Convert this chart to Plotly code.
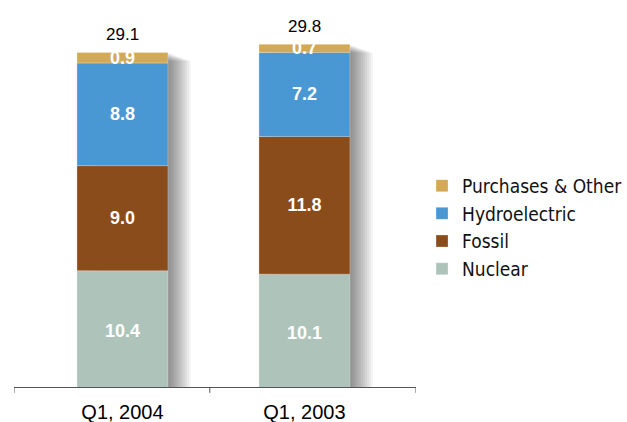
import plotly.graph_objects as go

categories = ["Q1, 2004", "Q1, 2003"]
nuclear = [10.4, 10.1]
fossil = [9.0, 11.8]
hydro = [8.8, 7.2]
purchases = [0.9, 0.7]

series = [
    ("Nuclear", nuclear, "#AEC4BB"),
    ("Fossil", fossil, "#8B4C1C"),
    ("Hydroelectric", hydro, "#4A98D3"),
    ("Purchases & Other", purchases, "#D4A955"),
]

totals = [round(sum(v), 1) for v in zip(nuclear, fossil, hydro, purchases)]

fig = go.Figure()

# soft drop shadow behind each stacked bar (layered translucent bars)
n_layers = 12
for k in range(1, n_layers + 1):
    fig.add_trace(go.Bar(
        x=categories, y=[t - 0.06 * k for t in totals], width=0.5,
        offset=-0.25 + k * 0.0105,
        marker=dict(color="rgba(0,0,0,0.045)", line=dict(width=0)),
        hoverinfo="skip", showlegend=False,
    ))

base = [0.0, 0.0]
for name, vals, color in series:
    fig.add_trace(go.Bar(
        x=categories, y=vals, base=list(base), name=name, width=0.5,
        marker=dict(color=color, line=dict(width=0.6, color="rgba(255,255,255,0.45)")),
        text=[f"{v:.1f}" for v in vals], textposition="inside",
        insidetextanchor="middle", textangle=0, constraintext="none",
        insidetextfont=dict(color="white", size=18, family="Liberation Sans, Arial", weight="bold"),
    ))
    base = [b + v for b, v in zip(base, vals)]

for c, t in zip(categories, totals):
    fig.add_annotation(x=c, y=t, yshift=18, text=f"{t:.1f}", showarrow=False,
                       yanchor="middle", font=dict(size=17, color="black", family="Liberation Sans, Arial"))

# axis ticks (category boundaries)
for tx in [-0.596, 0.48, 1.613]:
    fig.add_shape(type="line", xref="x", yref="paper", x0=tx, x1=tx, y0=0, y1=-0.016,
                  line=dict(color="#555555", width=1))

fig.update_layout(
    width=627, height=422,
    margin=dict(l=14, r=211, t=20, b=35, autoexpand=False),
    barmode="overlay",
    plot_bgcolor="white", paper_bgcolor="white",
    showlegend=True,
    legend=dict(x=1.015, y=0.60, xanchor="left", yanchor="top",
                traceorder="reversed",
                font=dict(size=19, color="#111111", family="DejaVu Sans Condensed, Liberation Sans Narrow, Arial")),
    xaxis=dict(type="category", range=[-0.596, 1.613], showline=True, linecolor="#555555",
               linewidth=1, ticks="", showgrid=False, zeroline=False, automargin=False,
               ticklabelstandoff=7,
               tickfont=dict(size=20, color="black", family="Liberation Sans, Arial")),
    yaxis=dict(range=[0.43, 31.88], visible=False, showgrid=False, zeroline=False, automargin=False),
)

fig.write_html("out.html", config={"displayModeBar": False},
               post_script="document.body.style.margin='0';document.body.style.overflow='hidden';")
